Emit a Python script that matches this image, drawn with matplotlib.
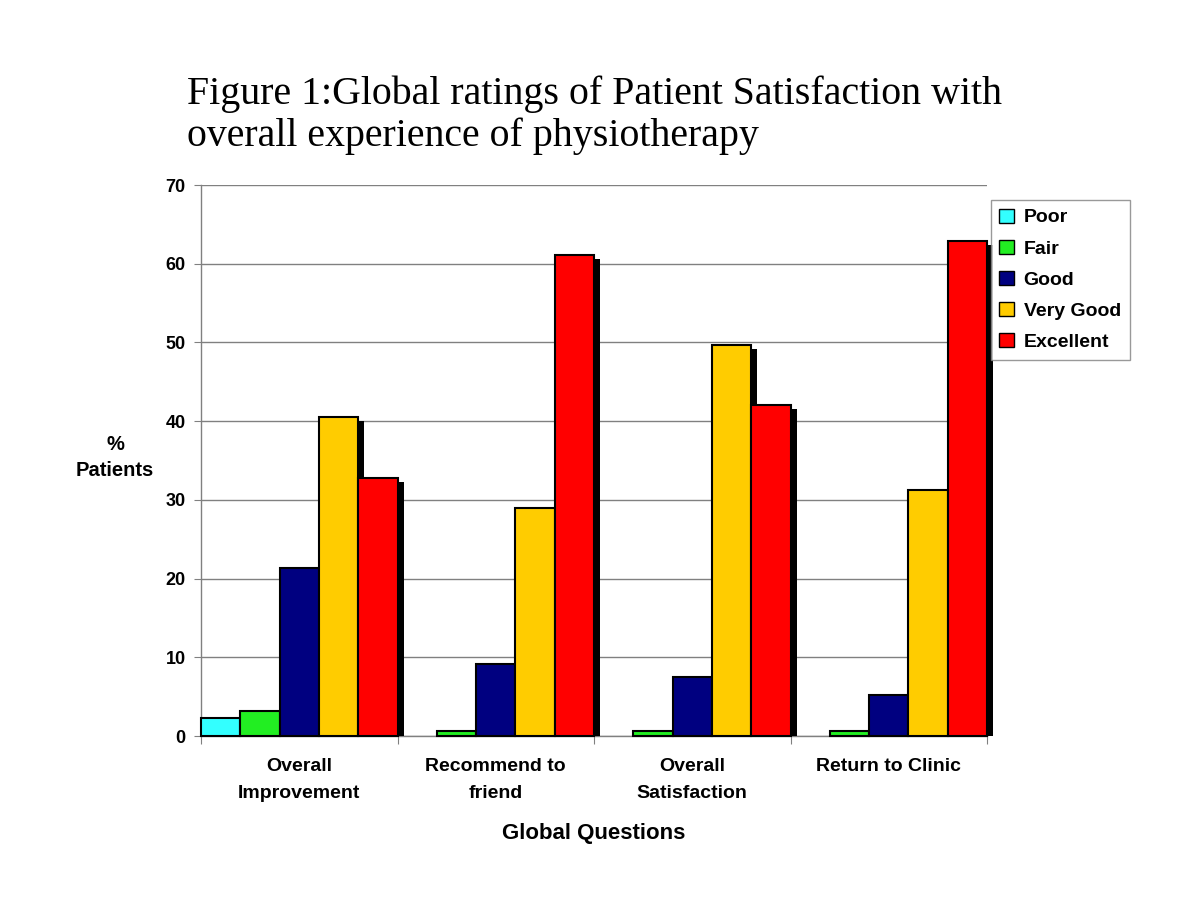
import numpy as np
import matplotlib.pyplot as plt
from matplotlib.patches import Patch

plt.rcParams['font.family'] = ['Liberation Sans', 'DejaVu Sans']

questions = ['Overall\nImprovement', 'Recommend to\nfriend', 'Overall\nSatisfaction', 'Return to Clinic']
ratings = ['Poor', 'Fair', 'Good', 'Very Good', 'Excellent']
poor = [2.3, 0, 0, 0]
fair = [3.2, 0.6, 0.6, 0.6]
good = [21.4, 9.1, 7.5, 5.2]
very_good = [40.5, 29.0, 49.7, 31.3]
excellent = [32.8, 61.1, 42.1, 62.9]
colors = ['#33FFFF', '#22EE22', '#000080', '#FFCC00', '#FF0000']

series = [poor, fair, good, very_good, excellent]

fig = plt.figure(figsize=(12, 9), dpi=100)
ax = fig.add_axes([0.1675, 0.1822, 0.655, 0.6122])

x = np.arange(len(questions))
w = 0.2
for j, (vals, c) in enumerate(zip(series, colors)):
    pos = x + w * (j + 0.5)
    vals = np.array(vals)
    # drop shadow
    sh = ax.bar(pos + 0.032, np.where(vals > 0, np.maximum(vals - 0.5, 0), 0), w,
                color='black', linewidth=0, zorder=2 + j * 2)
    for p in sh:
        p.set_clip_on(False)
    bars = ax.bar(pos[vals > 0], vals[vals > 0], w, color=c, edgecolor='black',
                  linewidth=1.5, zorder=3 + j * 2)
    for p in bars:
        p.set_clip_on(False)

ax.set_xlim(0, 4)
ax.set_ylim(0, 70)
ax.set_yticks(range(0, 71, 10))
ax.yaxis.grid(True, color='#808080', linewidth=1)
ax.set_axisbelow(True)
ax.set_xticks(np.arange(0, 5))
ax.set_xticklabels([])
ax.set_xticks(x + 0.5, minor=True)
ax.set_xticklabels(questions, minor=True, fontsize=14, fontweight='bold', linespacing=1.75)
ax.tick_params(axis='x', which='minor', length=0, pad=16)
ax.tick_params(axis='x', which='major', length=6, color='#808080', direction='out')
ax.tick_params(axis='y', length=5, color='#808080', labelsize=13, pad=6)
for lbl in ax.get_yticklabels():
    lbl.set_fontweight('bold')
for s in ['top', 'right']:
    ax.spines[s].set_visible(False)
for s in ['left', 'bottom']:
    ax.spines[s].set_color('#808080')
    ax.spines[s].set_linewidth(1)

ax.set_xlabel('Global Questions', fontsize=16, fontweight='bold', labelpad=15)
fig.text(0.096, 0.492, '%\nPatients', ha='center', va='center', fontsize=14.5,
         fontweight='bold', linespacing=1.45)

handles = [Patch(facecolor=c, edgecolor='black', label=r) for c, r in zip(colors, ratings)]
leg = fig.legend(handles=handles, loc='upper left', bbox_to_anchor=(0.8255, 0.778),
                 borderaxespad=0, frameon=True, fancybox=False, edgecolor='#808080',
                 fontsize=14, handlelength=0.75, handleheight=0.75, handletextpad=0.5,
                 labelspacing=0.68, borderpad=0.45)
leg.get_frame().set_linewidth(1)
for t in leg.get_texts():
    t.set_fontweight('bold')

fig.text(0.156, 0.828, 'Figure 1:Global ratings of Patient Satisfaction with\noverall experience of physiotherapy',
         fontsize=28.7, family='Liberation Serif', ha='left', va='bottom', linespacing=1.15)

fig.savefig('out.png', dpi=100)
